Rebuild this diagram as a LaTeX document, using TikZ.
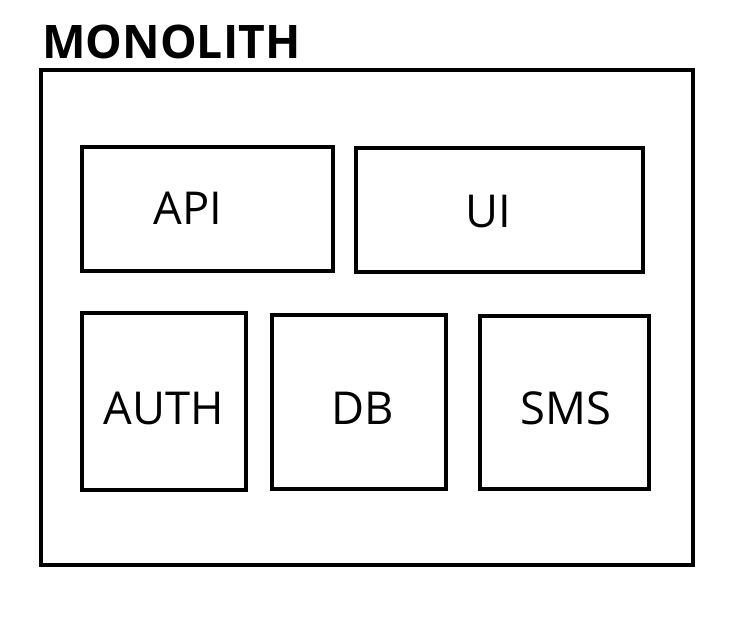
\documentclass[tikz,border=0pt]{standalone}
\usepackage{fontspec}
\setmainfont{Open Sans}
\usepackage{tikz}
\usetikzlibrary{positioning}

\begin{document}
\begin{tikzpicture}[x=0.02cm,y=-0.02cm,
                    line width=2.5pt,
                    part box/.style={rectangle,draw,inner sep=0pt},
                    part name/.style={inner sep=0pt,font=\fontsize{25.8}{30}\selectfont}]

      \useasboundingbox (0,0) rectangle (735,619);

      \node[anchor=west,inner sep=0pt,font=\fontsize{26.3}{30}\selectfont\bfseries] (title) at (40,42) {MONOLITH};
      \node[part box,minimum width=13.04cm,minimum height=9.9cm] (mono) at (367,317.5) {};

      \node[part box,minimum width=5.02cm,minimum height=2.48cm] (api) at (207.5,209) {};
      \node[part box,minimum width=5.74cm,minimum height=2.48cm] (ui) at (499.5,210) {};
      \node[part box,minimum width=3.28cm,minimum height=3.54cm] (auth) at (164,401.5) {};
      \node[part box,minimum width=3.48cm,minimum height=3.48cm] (db) at (359,402) {};
      \node[part box,minimum width=3.38cm,minimum height=3.46cm] (sms) at (564.5,402.5) {};

      \node[part name] (apiname) at (188,208) {API};
      \node[part name] (uiname) at (488,212) {UI};
      \node[part name] (authname) at (164,408) {AUTH};
      \node[part name] (dbname) at (363,408) {DB};
      \node[part name] (smsname) at (566,408) {SMS};
    \end{tikzpicture}
\end{document}
